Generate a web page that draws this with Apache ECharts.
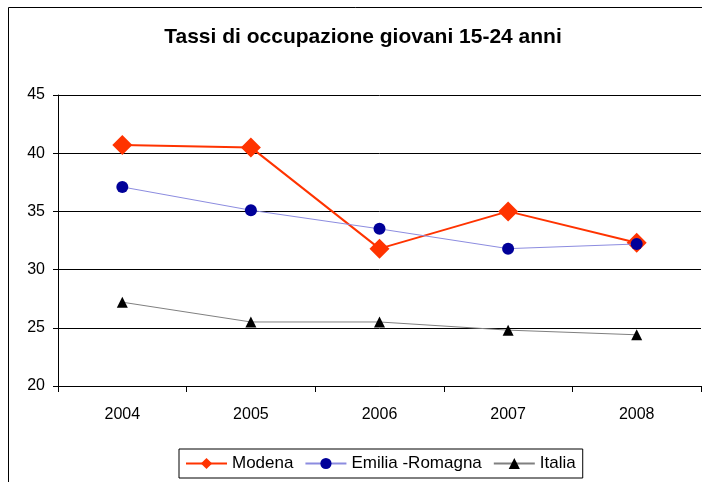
<!DOCTYPE html>
<html>
<head>
<meta charset="utf-8">
<script src="https://cdn.jsdelivr.net/npm/echarts@6/dist/echarts.min.js"></script>
<style>
  html, body { margin: 0; padding: 0; background: #fff; }
  #chart { width: 702px; height: 482px; }
</style>
</head>
<body>
<div id="chart"></div>
<script>
// dati del grafico
var years = ['2004', '2005', '2006', '2007', '2008'];
var modena = [40.7, 40.5, 31.8, 35.0, 32.3];
var emiliaRomagna = [37.1, 35.1, 33.5, 31.8, 32.2];
var italia = [27.2, 25.5, 25.5, 24.8, 24.4];

var chart = echarts.init(document.getElementById('chart'));

var option = {
  backgroundColor: '#fff',
  animation: false,
  textStyle: { fontFamily: 'Liberation Sans', color: '#000' },
  title: {
    text: 'Tassi di occupazione giovani 15-24 anni',
    left: 358,
    textAlign: 'center',
    top: 22,
    textStyle: { fontSize: 21, fontWeight: 'bold', color: '#000', fontFamily: 'Liberation Sans' }
  },
  // cornice del grafico
  graphic: [{
    type: 'rect',
    shape: { x: 8.5, y: 7.5, width: 720, height: 500 },
    style: { fill: 'none', stroke: '#000', lineWidth: 1 },
    silent: true
  }],
  grid: { left: 58, right: 1, top: 95, bottom: 96 },
  legend: {
    left: 179,
    top: 449,
    padding: [6, 7, 6, 6],
    borderColor: '#000',
    borderWidth: 1,
    itemGap: 11,
    itemWidth: 41,
    itemHeight: 14,
    textStyle: { fontSize: 17, color: '#000', fontFamily: 'Liberation Sans' },
    data: ['Modena', 'Emilia -Romagna', 'Italia']
  },
  xAxis: {
    type: 'category',
    data: years,
    boundaryGap: true,
    axisLine: { lineStyle: { color: '#000', width: 1 } },
    axisTick: { show: true, length: 6, lineStyle: { color: '#000' } },
    axisLabel: { fontSize: 16, color: '#000', margin: 21 }
  },
  yAxis: {
    type: 'value',
    min: 20,
    max: 45,
    interval: 5,
    axisLine: { show: true, lineStyle: { color: '#000', width: 1 } },
    axisTick: { show: true, length: 5, lineStyle: { color: '#000' } },
    axisLabel: { fontSize: 16, color: '#000', margin: 13 },
    splitLine: { lineStyle: { color: '#000', width: 1 } }
  },
  series: [
    {
      name: 'Modena',
      type: 'line',
      data: modena,
      symbol: 'diamond',
      symbolSize: 20,
      lineStyle: { color: '#ff3300', width: 2 },
      itemStyle: { color: '#ff3300' },
      z: 3
    },
    {
      name: 'Emilia -Romagna',
      type: 'line',
      data: emiliaRomagna,
      symbol: 'circle',
      symbolSize: 12,
      lineStyle: { color: '#8c8ce0', width: 1 },
      itemStyle: { color: '#000099' },
      z: 4
    },
    {
      name: 'Italia',
      type: 'line',
      data: italia,
      symbol: 'triangle',
      symbolSize: 11,
      lineStyle: { color: '#808080', width: 1 },
      itemStyle: { color: '#000' },
      z: 2
    }
  ]
};

chart.setOption(option);
</script>
</body>
</html>
